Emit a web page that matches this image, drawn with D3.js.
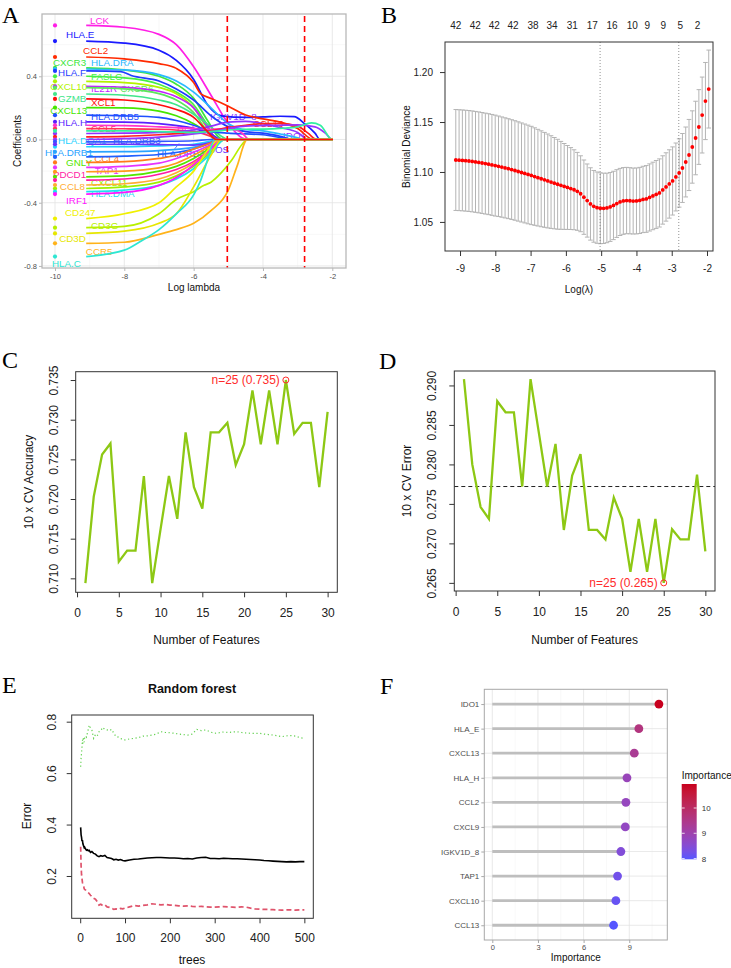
<!DOCTYPE html>
<html>
<head>
<meta charset="utf-8">
<script src="https://cdn.jsdelivr.net/npm/d3@7"></script>
<style>
  body { margin: 0; background: #fff; }
  svg { display: block; }
</style>
</head>
<body>
<div id="chart"></div>
<script>
const FONT = "'Liberation Sans', Arial, Helvetica, sans-serif";
const SERIF = "'Liberation Serif', 'Times New Roman', serif";

// ---------- A: lasso coefficient paths ----------
const geneNames = ["LCK","HLA.E","CCL2","CXCR3","HLA.DRA","HLA.F","FASLG","CXCL10","IL21R","CXCR6",
  "GZMB","CXCL13","HLA.DRB5","HLA.H","CCL5","HLA.A","IGKV1D_8","CCL13","IDO1","CXCL9",
  "HLA.DQA1","HLA.DRB3","HLA.DRB1","HLA.DRB4","ICOS","CCL4","TAP1","CCL3","GNLY","PDCD1",
  "CCL8","CXCL11","HLA.DMA","IRF1","CD247","CD3G","CD3D","CCR5","HLA.C","XCL1"];
// [log lambda, coefficient] points along each path
const genePaths = [
  [[-9.1,0.722],[-8,0.71],[-7,0.665],[-6.5,0.6],[-6,0.46],[-5.5,0.28],[-5,0.1],[-4.6,0.01],[-4.45,0]],
  [[-9.1,0.623],[-8,0.61],[-7,0.565],[-6.5,0.5],[-6,0.38],[-5.6,0.22],[-5.2,0.15],[-4.5,0.14],[-4,0.143],[-3.5,0.147],[-3.1,0.145],[-2.8,0.1],[-2.5,0.04],[-2.35,0]],
  [[-9.1,0.522],[-8,0.51],[-7,0.48],[-6.5,0.45],[-6,0.36],[-5.8,0.29],[-5.5,0.26],[-5,0.21],[-4.5,0.155],[-4,0.13],[-3.5,0.11],[-3,0.07],[-2.55,0]],
  [[-9.1,0.453],[-8,0.44],[-7,0.4],[-6.5,0.35],[-6,0.26],[-5.6,0.12],[-5.3,0.02],[-5.15,0]],
  [[-9.1,0.446],[-8,0.44],[-7,0.41],[-6.5,0.37],[-6,0.3],[-5.5,0.2],[-5,0.1],[-4.6,0.065],[-4,0.055],[-3.5,0.035],[-3,0.01],[-2.85,0]],
  [[-9.1,0.434],[-8.1,0.43],[-7.8,0.405],[-7,0.37],[-6.5,0.32],[-6,0.25],[-5.5,0.15],[-5,0.08],[-4.5,0.05],[-4,0.04],[-3.5,0.02],[-3.1,0]],
  [[-9.1,0.40],[-8,0.39],[-7,0.35],[-6.5,0.3],[-6,0.22],[-5.6,0.09],[-5.35,0]],
  [[-9.1,0.368],[-8,0.36],[-7,0.33],[-6.5,0.29],[-6,0.2],[-5.6,0.07],[-5.35,0]],
  [[-9.1,0.337],[-8,0.33],[-7,0.305],[-6.5,0.27],[-6,0.2],[-5.6,0.08],[-5.3,0]],
  [[-9.1,0.328],[-8,0.32],[-7,0.29],[-6.5,0.25],[-6,0.17],[-5.6,0.05],[-5.4,0]],
  [[-9.1,0.288],[-8,0.28],[-7,0.25],[-6.5,0.22],[-6,0.16],[-5.5,0.08],[-5.2,0.02],[-5,0]],
  [[-9.1,0.202],[-8,0.2],[-7,0.18],[-6.5,0.15],[-6,0.1],[-5.5,0.03],[-5.3,0]],
  [[-9.1,0.154],[-8,0.15],[-7,0.14],[-6.5,0.12],[-6,0.09],[-5.5,0.05],[-5,0.04],[-4.5,0.035],[-4,0.03],[-3.5,0.012],[-3.2,0]],
  [[-9.1,0.112],[-8,0.11],[-7,0.1],[-6,0.07],[-5.5,0.035],[-5.2,0]],
  [[-9.1,0.069],[-8,0.068],[-7,0.065],[-6,0.05],[-5.5,0.02],[-5.3,0]],
  [[-9.1,0.09],[-8,0.088],[-7,0.08],[-6,0.07],[-5.5,0.065],[-5,0.07],[-4.6,0.04],[-4.4,0]],
  [[-9.1,0.038],[-8,0.04],[-7,0.045],[-6,0.06],[-5.5,0.085],[-5,0.11],[-4.5,0.115],[-4,0.1],[-3.5,0.075],[-3,0.045],[-2.7,0]],
  [[-9.1,0.017],[-8,0.02],[-7,0.03],[-6,0.045],[-5.5,0.055],[-5,0.075],[-4.5,0.09],[-4,0.1],[-3.5,0.1],[-3,0.085],[-2.7,0.04],[-2.45,0]],
  [[-9.1,0.0],[-8,0.005],[-7,0.015],[-6,0.035],[-5.5,0.05],[-5,0.07],[-4.5,0.085],[-4,0.088],[-3.5,0.09],[-3,0.092],[-2.5,0.08],[-2.2,0.04],[-2.0,0]],
  [[-9.1,0.055],[-8,0.055],[-7,0.05],[-6,0.045],[-5.5,0.05],[-5,0.06],[-4.5,0.065],[-4,0.066],[-3.5,0.07],[-3,0.08],[-2.6,0.105],[-2.35,0.09],[-2.0,0]],
  [[-9.1,-0.046],[-8,-0.045],[-7,-0.04],[-6,-0.03],[-5.5,-0.01],[-5.3,0]],
  [[-9.1,-0.015],[-8,-0.015],[-7,-0.012],[-6,-0.008],[-5.5,0]],
  [[-9.1,-0.078],[-8,-0.077],[-7,-0.07],[-6,-0.05],[-5.5,-0.02],[-5.3,0]],
  [[-9.1,-0.11],[-8,-0.105],[-7,-0.095],[-6,-0.06],[-5.5,-0.02],[-5.3,0]],
  [[-9.1,-0.03],[-8,-0.03],[-7,-0.032],[-6,-0.035],[-5.5,-0.02],[-5.2,0]],
  [[-9.1,-0.145],[-8,-0.14],[-7,-0.12],[-6.5,-0.1],[-6,-0.06],[-5.5,-0.02],[-5.3,0]],
  [[-9.1,-0.177],[-8,-0.17],[-7,-0.15],[-6.5,-0.12],[-6,-0.08],[-5.5,-0.03],[-5.3,0]],
  [[-9.1,-0.204],[-8,-0.2],[-7,-0.18],[-6.5,-0.15],[-6,-0.1],[-5.5,-0.04],[-5.2,0]],
  [[-9.1,-0.236],[-8,-0.23],[-7,-0.2],[-6.5,-0.17],[-6,-0.12],[-5.5,-0.05],[-5.2,0]],
  [[-9.1,-0.257],[-8,-0.25],[-7,-0.22],[-6.5,-0.19],[-6,-0.14],[-5.5,-0.06],[-5.2,0]],
  [[-9.1,-0.288],[-8,-0.28],[-7,-0.25],[-6.5,-0.21],[-6,-0.15],[-5.5,-0.07],[-5.1,0]],
  [[-9.1,-0.31],[-8,-0.3],[-7,-0.27],[-6.5,-0.23],[-6,-0.17],[-5.5,-0.08],[-5.1,0]],
  [[-9.1,-0.33],[-8,-0.32],[-7,-0.29],[-6.5,-0.25],[-6,-0.185],[-5.5,-0.09],[-5.1,0]],
  [[-9.1,-0.345],[-8,-0.335],[-7,-0.29],[-6.5,-0.24],[-6,-0.16],[-5.5,-0.06],[-5.2,0]],
  [[-9.1,-0.5],[-8,-0.47],[-7,-0.4],[-6.5,-0.3],[-6,-0.2],[-5.6,-0.07],[-5.25,0]],
  [[-9.1,-0.558],[-8,-0.55],[-7,-0.47],[-6.5,-0.38],[-6,-0.33],[-5.7,-0.29],[-5.5,-0.27],[-5.2,-0.21],[-4.9,-0.13],[-4.6,-0.03],[-4.45,0]],
  [[-9.1,-0.594],[-8,-0.58],[-7,-0.53],[-6.5,-0.47],[-6,-0.3],[-5.5,-0.1],[-5.2,0]],
  [[-9.1,-0.657],[-8,-0.65],[-7,-0.6],[-6.5,-0.57],[-6,-0.53],[-5.5,-0.45],[-5,-0.32],[-4.75,-0.17],[-4.45,0]],
  [[-9.1,-0.741],[-8,-0.7],[-7.5,-0.64],[-7,-0.57],[-6.5,-0.47],[-6,-0.35],[-5.8,-0.26],[-5.6,-0.13],[-5.4,0]],
  [[-9.1,0.257],[-8,0.25],[-7,0.22],[-6.5,0.19],[-6,0.14],[-5.6,0.05],[-5.35,0]]
];
const geneColors = ["#ff1ee6","#1a1aff","#ff2a00","#3de63d","#29b8ff","#1f3dff","#45f045","#b3f200","#c21fff","#5ce65c",
  "#40e68a","#47e600","#1f4fff","#5a1fff","#ff3355","#ff33cc","#8f33ff","#ff2020","#9933ff","#33f0a0",
  "#1fd2ff","#3357ff","#29a3ff","#2060ff","#6b33ff","#ff7a1a","#e633ff","#ff9a1a","#52e600","#ff1aa3",
  "#ffad33","#9ef000","#1fe0f0","#ff14ff","#f0f000","#b8f000","#e6e600","#ffb31a","#2ee6d2","#ff0d0d"];
const lambdaCuts = [-5.03, -2.8];
// label placement (log lambda of left edge, coefficient of centre)
const coefLabels = [
  ["LCK",-8.99,0.755],["HLA.E",-9.68,0.666],["CCL2",-9.19,0.565],["CXCR3",-10.06,0.489],["HLA.DRA",-8.96,0.489],
  ["HLA.F",-9.91,0.426],["FASLG",-8.96,0.40],["CXCL10",-10.14,0.337],["IL21R",-8.96,0.325],["CXCR6",-8.12,0.325],
  ["GZMB",-9.91,0.261],["XCL1",-8.96,0.236],["CXCL13",-10.14,0.185],["HLA.DRB5",-8.96,0.147],["HLA.H",-9.91,0.11],
  ["CCL5",-8.96,0.072],["HLA.A",-6.48,0.071],["IGKV1D_8",-5.53,0.143],["CCL13",-4.29,0.101],["IDO1",-3.42,0.027],
  ["HLA.DQA1",-9.91,-0.004],["HLA.DRB3",-8.33,-0.004],["HLA.DRB1",-10.29,-0.08],["HLA.DRB4",-7.06,-0.087],["ICOS",-5.67,-0.062],
  ["GNLY",-9.68,-0.144],["CCL4",-8.87,-0.118],["PDCD1",-10.06,-0.22],["TAP1",-8.85,-0.194],["CCL8",-9.86,-0.296],
  ["CXCL11",-8.96,-0.27],["HLA.DMA",-8.96,-0.34],["IRF1",-9.68,-0.384],["CD247",-9.71,-0.46],["CD3G",-8.96,-0.542],
  ["CD3D",-9.88,-0.625],["CCR5",-9.11,-0.707],["HLA.C",-10.09,-0.783]
];

// ---------- B: cv.glmnet deviance ----------
const lambdaStart = -9.12, lambdaStep = 0.0931;
const cvMean = [1.1120,1.1118,1.1116,1.1113,1.1110,1.1106,1.1101,1.1096,1.1090,1.1084,1.1078,1.1071,1.1064,
  1.1057,1.1049,1.1041,1.1033,1.1024,1.1015,1.1005,1.0995,1.0985,1.0975,1.0965,
  1.0954,1.0943,1.0932,1.0921,1.0910,1.0899,1.0888,1.0877,1.0866,1.0855,1.0845,
  1.0834,1.0822,1.0806,1.0782,1.0748,1.0714,1.0680,1.0656,1.0643,1.0637,
  1.0636,1.0640,1.0650,1.0665,1.0684,1.0700,1.0710,1.0714,1.0712,1.0709,1.0710,1.0715,
  1.0725,1.0730,1.0745,1.0760,1.0775,1.0790,1.0820,1.0850,1.0880,1.0910,1.0950,1.0990,1.1040,1.1100,1.1170,1.1250,1.1340,1.1450,1.1570,1.1710,1.1830];
const cvSE = [0.0505,0.0505,0.0505,0.0505,0.0505,0.0505,0.0505,0.0505,0.0505,0.0505,0.0505,0.0505,0.0505,
  0.0503,0.0502,0.0501,0.0500,0.0499,0.0498,0.0497,0.0496,0.0495,0.0494,0.0492,
  0.0488,0.0484,0.0480,0.0475,0.0470,0.0464,0.0457,0.0450,0.0440,0.0430,0.0420,
  0.0410,0.0400,0.0390,0.0380,0.0372,0.0366,0.0362,0.0359,0.0357,0.0355,
  0.0352,0.0348,0.0345,0.0342,0.0339,0.0336,0.0334,0.0332,0.0331,0.0330,0.0330,0.0331,
  0.0332,0.0334,0.0336,0.0338,0.0340,0.0341,0.0342,0.0342,0.0342,0.0341,0.0340,
  0.0342,0.0345,0.0350,0.0356,0.0362,0.0368,0.0374,0.0380,0.0386,0.0390];
const topLambda = [-9.12,-8.57,-8.03,-7.5,-6.93,-6.39,-5.82,-5.25,-4.69,-4.12,-3.69,-3.24,-2.76,-2.27];
const topCounts = [42,42,42,42,38,34,31,17,16,10,9,9,5,2];

// ---------- C / D: SVM-RFE ----------
const nFeatures = d3.range(1, 31);
const cvAccuracy = [0.7094,0.7203,0.7256,0.7270,0.7121,0.7135,0.7135,0.7229,0.7094,0.7162,
  0.7229,0.7175,0.7284,0.7215,0.7188,0.7284,0.7284,0.7296,0.7243,0.7269,
  0.7337,0.7269,0.7337,0.7269,0.7350,0.7282,0.7296,0.7296,0.7215,0.7310];
const cvError = [0.2908,0.2800,0.2746,0.2731,0.2880,0.2866,0.2866,0.2772,0.2908,0.2840,
  0.2772,0.2826,0.2717,0.2786,0.2813,0.2717,0.2717,0.2705,0.2758,0.2731,
  0.2664,0.2731,0.2664,0.2731,0.2650,0.2718,0.2705,0.2705,0.2787,0.2690];
const errorRef = 0.2772;
const bestN = 25;

// ---------- E: random forest error ----------
const trees = [1,2,3,4,5,6,7,8,9,10,12,14,16,18,20,23,26,30,34,38,42,46,50,55,60,65,70,75,80,85,90,95,100,
  110,120,130,140,150,160,170,180,190,200,210,220,230,240,250,260,270,280,290,300,310,320,330,340,350,
  360,370,380,390,400,410,420,430,440,450,460,470,480,490,500];
const errOOB = [0.389,0.360,0.350,0.335,0.340,0.325,0.320,0.315,0.310,0.312,0.305,0.300,0.302,0.298,0.300,0.292,0.295,0.288,0.285,0.278,0.275,0.279,0.277,0.280,0.272,0.270,0.268,0.263,0.265,0.262,0.264,0.260,0.259,
  0.262,0.265,0.266,0.268,0.270,0.271,0.272,0.272,0.271,0.270,0.270,0.269,0.267,0.268,0.266,0.270,0.272,0.273,0.268,0.268,0.267,0.269,0.268,0.267,0.267,
  0.266,0.265,0.264,0.263,0.262,0.260,0.259,0.258,0.257,0.256,0.255,0.256,0.255,0.256,0.256];
const errClass1 = [0.314,0.240,0.205,0.190,0.175,0.168,0.160,0.158,0.150,0.148,0.145,0.140,0.138,0.135,0.132,0.125,0.120,0.113,0.110,0.100,0.087,0.090,0.085,0.088,0.080,0.078,0.075,0.070,0.072,0.070,0.074,0.072,0.075,
  0.080,0.085,0.083,0.086,0.088,0.092,0.090,0.088,0.089,0.087,0.086,0.084,0.083,0.084,0.082,0.081,0.082,0.080,0.079,0.079,0.080,0.081,0.080,0.079,0.078,
  0.080,0.079,0.075,0.072,0.071,0.070,0.070,0.069,0.068,0.067,0.068,0.068,0.067,0.068,0.068];
const errClass2 = [0.625,0.660,0.677,0.700,0.729,0.715,0.740,0.730,0.720,0.739,0.745,0.740,0.755,0.770,0.787,0.775,0.768,0.735,0.750,0.745,0.761,0.765,0.778,0.770,0.768,0.765,0.770,0.755,0.742,0.740,0.735,0.730,0.729,
  0.733,0.735,0.738,0.744,0.745,0.748,0.752,0.761,0.758,0.757,0.755,0.752,0.750,0.748,0.752,0.770,0.765,0.768,0.760,0.755,0.757,0.760,0.758,0.760,0.761,
  0.758,0.756,0.755,0.754,0.755,0.752,0.750,0.748,0.745,0.742,0.745,0.746,0.744,0.738,0.735];

// ---------- F: RF importance ----------
const impGenes = ["IDO1","HLA_E","CXCL13","HLA_H","CCL2","CXCL9","IGKV1D_8","TAP1","CXCL10","CCL13"];
const impValues = [10.95,9.63,9.33,8.85,8.78,8.74,8.45,8.23,8.12,7.97];

// ======================================================
const svg = d3.select("#chart").append("svg")
  .attr("width", 731).attr("height", 968)
  .style("font-family", FONT);
svg.append("rect").attr("width", 731).attr("height", 968).attr("fill", "#fff");

function letter(t, x, y) {
  svg.append("text").attr("x", x).attr("y", y).text(t)
    .attr("font-family", SERIF).attr("font-size", 24);
}

function boxRect(g, b, stroke, w) {
  g.append("rect").attr("x", b.l).attr("y", b.t)
    .attr("width", b.r - b.l).attr("height", b.b - b.t)
    .attr("fill", "none").attr("stroke", stroke).attr("stroke-width", w);
}

// base-R style axes
function rAxisX(g, x, vals, yb, labOff, fs, fmt) {
  const ax = g.append("g").attr("transform", `translate(0,${yb})`)
    .call(d3.axisBottom(x).tickValues(vals).tickSize(5).tickSizeOuter(0).tickFormat(fmt));
  ax.select(".domain").remove();
  ax.selectAll(".tick line").attr("stroke", "#333");
  ax.selectAll(".tick text").attr("y", labOff).attr("dy", "0.35em")
    .attr("font-size", fs).attr("fill", "#222").attr("font-family", FONT);
  return ax;
}
function rAxisY(g, y, vals, xl, labOff, fs, fmt, rotate) {
  const ax = g.append("g").attr("transform", `translate(${xl},0)`)
    .call(d3.axisLeft(y).tickValues(vals).tickSize(5).tickSizeOuter(0).tickFormat(fmt));
  ax.select(".domain").remove();
  ax.selectAll(".tick line").attr("stroke", "#333");
  const t = ax.selectAll(".tick text").attr("font-size", fs).attr("fill", "#222").attr("font-family", FONT);
  if (rotate) {
    t.attr("x", null).attr("dy", null).attr("text-anchor", "middle")
      .attr("dominant-baseline", "central")
      .attr("transform", `translate(${-labOff},0) rotate(-90)`);
  } else {
    t.attr("x", -labOff).attr("dy", "0.35em");
  }
  return ax;
}
function label(g, t, x, y, fs, opts = {}) {
  const el = g.append("text").attr("x", x).attr("y", y).text(t)
    .attr("font-size", fs).attr("text-anchor", opts.anchor || "middle")
    .attr("dominant-baseline", "central").attr("fill", opts.fill || "#111");
  if (opts.rotate) el.attr("transform", `rotate(-90,${x},${y})`);
  if (opts.bold) el.attr("font-weight", "bold");
  return el;
}

// ================= Panel A =================
(function () {
  const b = { l: 42, r: 346, t: 14, b: 268 };
  const x = d3.scaleLinear().domain([-10.375, -1.605]).range([b.l, b.r]);
  const y = d3.scaleLinear().domain([-0.813, 0.794]).range([b.b, b.t]);
  const g = svg.append("g");
  g.append("rect").attr("x", b.l).attr("y", b.t).attr("width", b.r - b.l).attr("height", b.b - b.t).attr("fill", "#fff");
  const grid = g.append("g");
  [-9, -7, -5, -3].forEach(v => grid.append("line").attr("x1", x(v)).attr("x2", x(v)).attr("y1", b.t).attr("y2", b.b).attr("stroke", "#f0f0f0").attr("stroke-width", 0.5));
  [0.6, 0.2, -0.2, -0.6].forEach(v => grid.append("line").attr("x1", b.l).attr("x2", b.r).attr("y1", y(v)).attr("y2", y(v)).attr("stroke", "#f0f0f0").attr("stroke-width", 0.5));
  [-10, -8, -6, -4, -2].forEach(v => grid.append("line").attr("x1", x(v)).attr("x2", x(v)).attr("y1", b.t).attr("y2", b.b).attr("stroke", "#e3e3e3").attr("stroke-width", 0.8));
  [0.4, 0, -0.4, -0.8].forEach(v => grid.append("line").attr("x1", b.l).attr("x2", b.r).attr("y1", y(v)).attr("y2", y(v)).attr("stroke", "#e3e3e3").attr("stroke-width", 0.8));

  const colorOf = {};
  geneNames.forEach((n, i) => colorOf[n] = geneColors[i]);

  // labels under the lines (as in the original the lines overpaint them)
  const lab = g.append("g").attr("font-size", 9.8);
  coefLabels.forEach(([n, lx, ly]) => {
    lab.append("text").attr("x", x(lx)).attr("y", y(ly)).attr("dominant-baseline", "central")
      .attr("fill", colorOf[n]).text(n);
  });
  lab.append("line").attr("x1", x(-6.55)).attr("y1", y(-0.06)).attr("x2", x(-6.42)).attr("y2", y(-0.025))
    .attr("stroke", colorOf["HLA.DRB4"]).attr("stroke-width", 0.8);

  const line = d3.line().x(d => x(d[0])).y(d => y(d[1])).curve(d3.curveMonotoneX);
  genePaths.forEach((pts, i) => {
    const full = pts.concat([[-1.98, 0]]);
    g.append("path").attr("d", line(full)).attr("fill", "none")
      .attr("stroke", geneColors[i]).attr("stroke-width", 1.7);
  });

  lambdaCuts.forEach(v => g.append("line").attr("x1", x(v)).attr("x2", x(v)).attr("y1", b.t + 2).attr("y2", b.b)
    .attr("stroke", "#ff0000").attr("stroke-width", 1.6).attr("stroke-dasharray", "6,4"));

  genePaths.forEach((pts, i) => {
    g.append("circle").attr("cx", x(-10)).attr("cy", y(pts[0][1])).attr("r", 2.1).attr("fill", geneColors[i]);
  });

  boxRect(g, b, "#b8b8b8", 1.3);

  const ax = g.append("g").attr("transform", `translate(0,${b.b})`)
    .call(d3.axisBottom(x).tickValues([-10, -8, -6, -4, -2]).tickSize(3).tickSizeOuter(0).tickPadding(3).tickFormat(d => String(d)));
  ax.select(".domain").remove();
  ax.selectAll(".tick line").attr("stroke", "#b8b8b8");
  ax.selectAll(".tick text").attr("font-size", 7.5).attr("fill", "#4d4d4d").attr("font-family", FONT);
  const ay = g.append("g").attr("transform", `translate(${b.l},0)`)
    .call(d3.axisLeft(y).tickValues([0.4, 0, -0.4, -0.8]).tickSize(3).tickSizeOuter(0).tickPadding(2).tickFormat(d => d.toFixed(1)));
  ay.select(".domain").remove();
  ay.selectAll(".tick line").attr("stroke", "#b8b8b8");
  ay.selectAll(".tick text").attr("font-size", 7.5).attr("fill", "#4d4d4d").attr("font-family", FONT);

  label(g, "Coefficients", 17, (b.t + b.b) / 2, 10, { rotate: true });
  label(g, "Log lambda", (b.l + b.r) / 2, 287, 10);
  letter("A", 2, 23);
})();

// ================= Panel B =================
(function () {
  const b = { l: 445, r: 713, t: 42, b: 251 };
  const x = d3.scaleLinear().domain([-9.426, -1.83]).range([b.l, b.r]);
  const y = d3.scaleLinear().domain([1.0209, 1.2301]).range([b.b, b.t]);
  const g = svg.append("g");
  const pts = cvMean.map((m, j) => ({ l: lambdaStart + j * lambdaStep, m: m, s: cvSE[j] }));

  const eb = g.append("g").attr("stroke", "#b4b4b4").attr("stroke-width", 1);
  pts.forEach(d => {
    const cx = x(d.l);
    eb.append("line").attr("x1", cx).attr("x2", cx).attr("y1", y(d.m - d.s)).attr("y2", y(d.m + d.s));
    eb.append("line").attr("x1", cx - 2.3).attr("x2", cx + 2.3).attr("y1", y(d.m + d.s)).attr("y2", y(d.m + d.s));
    eb.append("line").attr("x1", cx - 2.3).attr("x2", cx + 2.3).attr("y1", y(d.m - d.s)).attr("y2", y(d.m - d.s));
  });
  lambdaCuts.forEach(v => g.append("line").attr("x1", x(v)).attr("x2", x(v)).attr("y1", b.t).attr("y2", b.b)
    .attr("stroke", "#777").attr("stroke-width", 0.8).attr("stroke-dasharray", "1,2"));
  g.selectAll(".dot").data(pts).join("circle").attr("class", "dot")
    .attr("cx", d => x(d.l)).attr("cy", d => y(d.m)).attr("r", 1.9).attr("fill", "#ff0000");

  boxRect(g, b, "#333", 1);
  rAxisX(g, x, [-9, -8, -7, -6, -5, -4, -3, -2], b.b, 17, 10, d => String(d));
  rAxisY(g, y, [1.05, 1.10, 1.15, 1.20], b.l, 12, 10, d => d.toFixed(2), false).selectAll(".tick text").attr("text-anchor", "end");

  const top = g.append("g").attr("font-size", 10).attr("fill", "#222");
  topLambda.forEach((l, i) => top.append("text").attr("x", x(l)).attr("y", 25)
    .attr("text-anchor", "middle").attr("dominant-baseline", "central").text(topCounts[i]));

  label(g, "Binomial Deviance", 406, (b.t + b.b) / 2, 10, { rotate: true });
  label(g, "Log(\u03bb)", (b.l + b.r) / 2, 289, 10);
  letter("B", 381, 23);
})();

// ================= Panels C & D =================
function rfePanel(b, yDomain, yTicks, values, yTitle, yTitleX, refLine) {
  const x = d3.scaleLinear().domain([-0.16, 31.16]).range([b.l, b.r]);
  const y = d3.scaleLinear().domain(yDomain).range([b.b, b.t]);
  const g = svg.append("g");
  const data = nFeatures.map((n, i) => [n, values[i]]);
  if (refLine !== undefined) {
    g.append("line").attr("x1", b.l).attr("x2", b.r).attr("y1", y(refLine)).attr("y2", y(refLine))
      .attr("stroke", "#222").attr("stroke-width", 1).attr("stroke-dasharray", "4,3");
  }
  g.append("path").attr("d", d3.line().x(d => x(d[0])).y(d => y(d[1]))(data))
    .attr("fill", "none").attr("stroke", "#8dc814").attr("stroke-width", 2.3).attr("stroke-linejoin", "miter");
  const best = values[bestN - 1];
  g.append("circle").attr("cx", x(bestN)).attr("cy", y(best)).attr("r", 3)
    .attr("fill", "none").attr("stroke", "#ff2b2b").attr("stroke-width", 1);
  label(g, `n=${bestN} (${best.toFixed(3)})`, x(bestN) - 6, y(best), 12, { anchor: "end", fill: "#ff2b2b" });
  boxRect(g, b, "#333", 1);
  rAxisX(g, x, [0, 5, 10, 15, 20, 25, 30], b.b, 21, 12, d => String(d));
  rAxisY(g, y, yTicks, b.l, 22, 12, d => d.toFixed(3), true);
  label(g, yTitle, yTitleX, (b.t + b.b) / 2, 12, { rotate: true });
  label(g, "Number of Features", (b.l + b.r) / 2, 640, 12);
}
rfePanel({ l: 75.7, r: 337.3, t: 371.7, b: 592.3 }, [0.70824, 0.73605],
  [0.710, 0.715, 0.720, 0.725, 0.730, 0.735], cvAccuracy, "10 x CV Accuracy", 29);
rfePanel({ l: 454.3, r: 715, t: 371, b: 591 }, [0.26397, 0.29183],
  [0.265, 0.270, 0.275, 0.280, 0.285, 0.290], cvError, "10 x CV Error", 407, errorRef);
letter("C", 2, 368);
letter("D", 379, 369);

// ================= Panel E =================
(function () {
  const b = { l: 71.7, r: 313.3, t: 715, b: 918.3 };
  const x = d3.scaleLinear().domain([-18.96, 519.96]).range([b.l, b.r]);
  const y = d3.scaleLinear().domain([0.0355, 0.826]).range([b.b, b.t]);
  const g = svg.append("g");
  const line = d3.line().x(d => x(d[0])).y(d => y(d[1]));
  g.append("path").attr("d", line(trees.map((t, i) => [t, errClass2[i]])))
    .attr("fill", "none").attr("stroke", "#61d04f").attr("stroke-width", 1.2).attr("stroke-dasharray", "1.2,2.6");
  g.append("path").attr("d", line(trees.map((t, i) => [t, errClass1[i]])))
    .attr("fill", "none").attr("stroke", "#df536b").attr("stroke-width", 1.7).attr("stroke-dasharray", "5,3");
  g.append("path").attr("d", line(trees.map((t, i) => [t, errOOB[i]])))
    .attr("fill", "none").attr("stroke", "#000").attr("stroke-width", 1.6);
  boxRect(g, b, "#333", 1);
  rAxisX(g, x, [0, 100, 200, 300, 400, 500], b.b, 20, 12, d => String(d));
  rAxisY(g, y, [0.2, 0.4, 0.6, 0.8], b.l, 20, 12, d => d.toFixed(1), true);
  label(g, "Error", 27, 816, 12, { rotate: true });
  label(g, "trees", 192, 960, 12);
  label(g, "Random forest", 192, 689, 12.5, { bold: true });
  letter("E", 2, 693);
})();

// ================= Panel F =================
(function () {
  const b = { l: 484.3, r: 667.3, t: 689.3, b: 940 };
  const x = d3.scaleLinear().domain([-0.526, 11.5]).range([b.l, b.r]);
  const y = d3.scalePoint().domain(impGenes).range([b.t, b.b]).padding(0.6);
  const col = d3.scaleLinear().domain([d3.min(impValues), d3.max(impValues)])
    .range(["#5656ff", "#c8001e"]).interpolate(d3.interpolateLab);
  const g = svg.append("g");
  g.append("rect").attr("x", b.l).attr("y", b.t).attr("width", b.r - b.l).attr("height", b.b - b.t).attr("fill", "#fff");
  [1.5, 4.5, 7.5, 10.5].forEach(v => g.append("line").attr("x1", x(v)).attr("x2", x(v)).attr("y1", b.t).attr("y2", b.b).attr("stroke", "#f1f1f1").attr("stroke-width", 0.5));
  [0, 3, 6, 9].forEach(v => g.append("line").attr("x1", x(v)).attr("x2", x(v)).attr("y1", b.t).attr("y2", b.b).attr("stroke", "#e3e3e3").attr("stroke-width", 0.8));
  impGenes.forEach(n => g.append("line").attr("x1", b.l).attr("x2", b.r).attr("y1", y(n)).attr("y2", y(n)).attr("stroke", "#e3e3e3").attr("stroke-width", 0.8));

  impGenes.forEach((n, i) => {
    g.append("line").attr("x1", x(0)).attr("x2", x(impValues[i])).attr("y1", y(n)).attr("y2", y(n))
      .attr("stroke", "#bebebe").attr("stroke-width", 2.8);
  });
  impGenes.forEach((n, i) => {
    g.append("circle").attr("cx", x(impValues[i])).attr("cy", y(n)).attr("r", 4.4).attr("fill", col(impValues[i]));
  });
  boxRect(g, b, "#a8a8a8", 1);

  const ax = g.append("g").attr("transform", `translate(0,${b.b})`)
    .call(d3.axisBottom(x).tickValues([0, 3, 6, 9]).tickSize(3).tickSizeOuter(0).tickPadding(2).tickFormat(d => String(d)));
  ax.select(".domain").remove();
  ax.selectAll(".tick line").attr("stroke", "#a8a8a8");
  ax.selectAll(".tick text").attr("font-size", 7.5).attr("fill", "#4d4d4d").attr("font-family", FONT);
  const ay = g.append("g").attr("transform", `translate(${b.l},0)`)
    .call(d3.axisLeft(y).tickSize(3).tickSizeOuter(0).tickPadding(2));
  ay.select(".domain").remove();
  ay.selectAll(".tick line").attr("stroke", "#a8a8a8");
  ay.selectAll(".tick text").attr("font-size", 8).attr("fill", "#4d4d4d").attr("font-family", FONT);
  label(g, "Importance", (b.l + b.r) / 2, 957, 10);

  // colour bar legend
  const lo = d3.min(impValues), hi = d3.max(impValues);
  const ly = d3.scaleLinear().domain([lo, hi]).range([859.3, 784]);
  const grad = svg.append("defs").append("linearGradient").attr("id", "impGrad")
    .attr("x1", 0).attr("y1", 1).attr("x2", 0).attr("y2", 0);
  d3.range(0, 1.0001, 0.1).forEach(t => grad.append("stop").attr("offset", t).attr("stop-color", col(lo + t * (hi - lo))));
  const bx = 681.7, bw = 15;
  g.append("rect").attr("x", bx).attr("y", ly(hi)).attr("width", bw).attr("height", ly(lo) - ly(hi)).attr("fill", "url(#impGrad)");
  const lg = g.append("g").attr("transform", `translate(${bx + bw},0)`)
    .call(d3.axisRight(ly).tickValues([8, 9, 10]).tickSize(0).tickPadding(5).tickFormat(d => String(d)));
  lg.select(".domain").remove();
  lg.selectAll(".tick text").attr("font-size", 8).attr("fill", "#333").attr("font-family", FONT);
  [8, 9, 10].forEach(v => {
    g.append("line").attr("x1", bx).attr("x2", bx + 3).attr("y1", ly(v)).attr("y2", ly(v)).attr("stroke", "#fff").attr("stroke-width", 0.8);
    g.append("line").attr("x1", bx + bw - 3).attr("x2", bx + bw).attr("y1", ly(v)).attr("y2", ly(v)).attr("stroke", "#fff").attr("stroke-width", 0.8);
  });
  label(g, "Importance", bx, 775, 10, { anchor: "start" });
  letter("F", 380, 694);
})();
</script>
</body>
</html>
